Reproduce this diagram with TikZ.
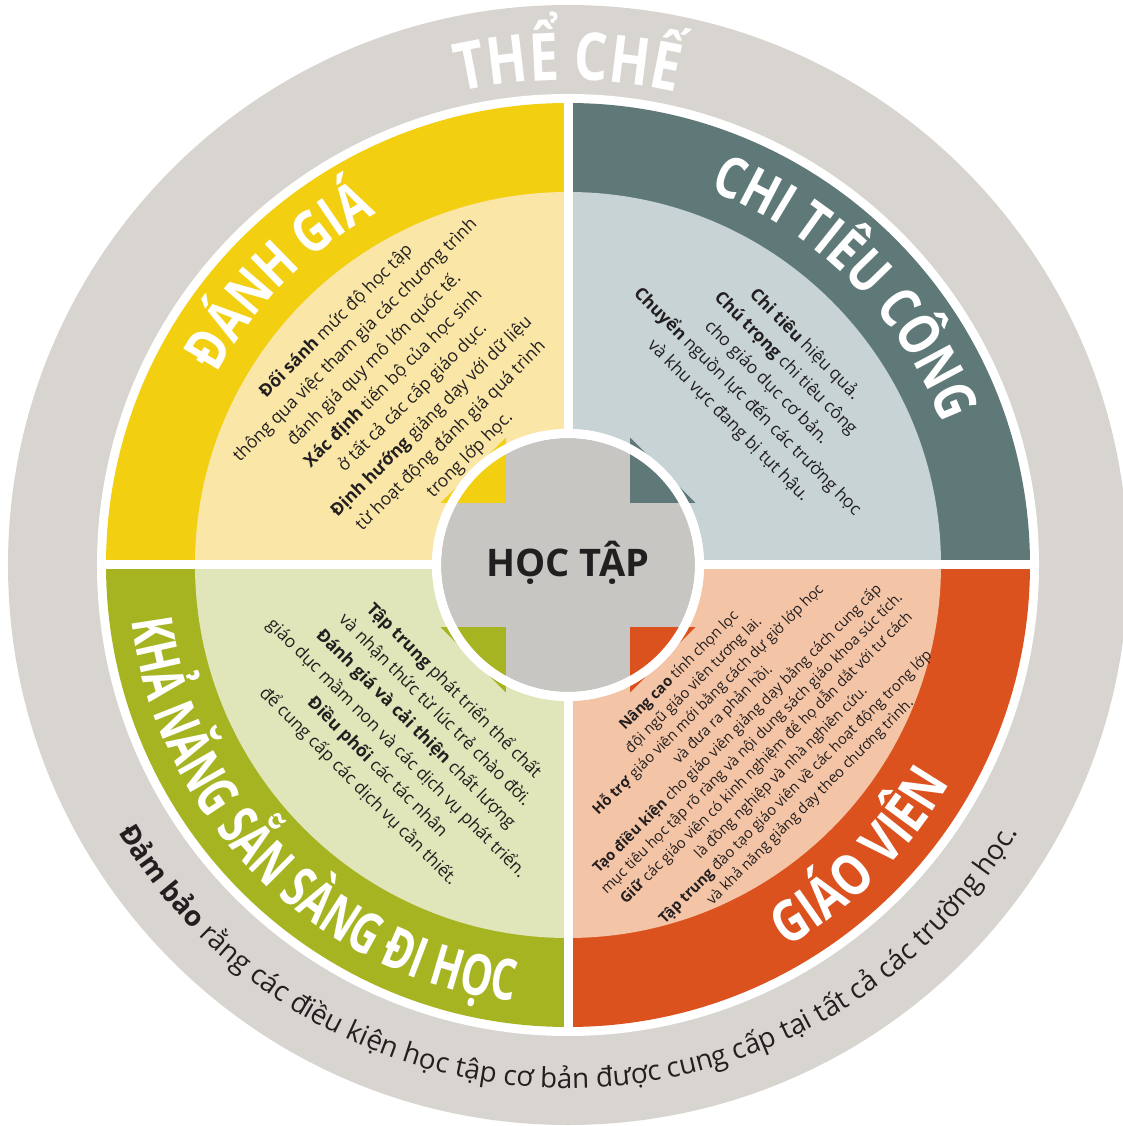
\documentclass[tikz,border=0pt]{standalone}
\usepackage{fontspec}
\setmainfont{Open Sans}
\newfontfamily\titlefont{Open Sans}[FakeStretch=0.8]
\newfontfamily\tighttitlefont{Open Sans}[FakeStretch=0.7]
\usetikzlibrary{decorations.text}
\definecolor{ringgray}{HTML}{D8D5D1}
\definecolor{hubgray}{HTML}{C8C6C2}
\definecolor{inkdark}{HTML}{231F20}
\definecolor{sunny}{HTML}{F3CF12}
\definecolor{sunnylight}{HTML}{FAE7A8}
\definecolor{slate}{HTML}{5F7979}
\definecolor{slatelight}{HTML}{C7D3D5}
\definecolor{rust}{HTML}{DB521E}
\definecolor{rustlight}{HTML}{F3C4A6}
\definecolor{leaf}{HTML}{A6B421}
\definecolor{leaflight}{HTML}{E0E5BA}

\begin{document}
\begin{tikzpicture}[
x=1pt,y=1pt,
body/.style={align=center,text=inkdark,inner sep=0pt,font=\fontsize{17.5}{27}\selectfont},
smallbody/.style={body,font=\fontsize{14.8}{20.6}\selectfont},
ringtitle/.style={decorate,decoration={text along path,text align=center,text color=white,text={#1}}}
]
\useasboundingbox (-568,-561) rectangle (554,565);
\fill[ringgray] (0,0) circle[radius=560];
\fill[white] (0,0) circle[radius=471];
\fill[sunny] (0,0) -- (180:462) arc[start angle=180,end angle=90,radius=462] -- cycle;
\fill[slate] (0,0) -- (90:462) arc[start angle=90,end angle=0,radius=462] -- cycle;
\fill[rust] (0,0) -- (0:462) arc[start angle=360,end angle=270,radius=462] -- cycle;
\fill[leaf] (0,0) -- (270:462) arc[start angle=270,end angle=180,radius=462] -- cycle;
\fill[sunnylight] (0,0) -- (180:373) arc[start angle=180,end angle=90,radius=373] -- cycle;
\fill[slatelight] (0,0) -- (90:373) arc[start angle=90,end angle=0,radius=373] -- cycle;
\fill[rustlight] (0,0) -- (0:373) arc[start angle=360,end angle=270,radius=373] -- cycle;
\fill[leaflight] (0,0) -- (270:373) arc[start angle=270,end angle=180,radius=373] -- cycle;
\draw[white,line width=9pt] (-471,0) -- (471,0) (0,-471) -- (0,471);
\fill[white] (0,0) circle[radius=136];
\fill[hubgray] (0,0) circle[radius=127];
\foreach \ang/\col in {135/sunny,45/slate,315/rust,225/leaf}
  \fill[\col,rotate=\ang] (88,0) -- (134,46) -- (134,-46) -- cycle;
\draw[white,line width=9pt] (0,0) circle[radius=131.5];

\node[font=\bfseries\fontsize{38}{40}\selectfont,text=inkdark,anchor=base] (hub) at (0,-12) {HỌC TẬP};

\path[ringtitle={|\titlefont\bfseries\fontsize{66}{70}\selectfont|THỂ CHẾ}] (135:485) arc[start angle=135,end angle=45,radius=485];
\path[ringtitle={|\titlefont\bfseries\fontsize{57}{60}\selectfont|ĐÁNH GIÁ}] (180:400) arc[start angle=180,end angle=90,radius=400];
\path[ringtitle={|\titlefont\bfseries\fontsize{57}{60}\selectfont|CHI TIÊU CÔNG}] (90:400) arc[start angle=90,end angle=0,radius=400];
\path[ringtitle={|\titlefont\bfseries\fontsize{57}{60}\selectfont|GIÁO VIÊN}] (270:440) arc[start angle=270,end angle=360,radius=440];
\path[ringtitle={|\tighttitlefont\bfseries\fontsize{57}{60}\selectfont|KHẢ NĂNG SẴN SÀNG ĐI HỌC}] (180:440) arc[start angle=180,end angle=270,radius=440];
\path[decorate,decoration={text along path,text align=center,text color=inkdark,
  text={|\fontsize{27.8}{30}\selectfont\bfseries|Đảm bảo|\fontsize{27.8}{30}\selectfont\mdseries| rằng các điều kiện học tập cơ bản được cung cấp tại tất cả các trường học.}}]
  (190:523) arc[start angle=190,end angle=350,radius=523];

\node[body,rotate=45] (evaltext) at (-165,177) {\textbf{Đối sánh} mức độ học tập\\thông qua việc tham gia các chương trình\\đánh giá quy mô lớn quốc tế.\\\textbf{Xác định} tiến bộ của học sinh\\ở tất cả các cấp giáo dục.\\\textbf{Định hướng} giảng dạy với dữ liệu\\từ hoạt động đánh giá quá trình\\trong lớp học.};
\node[body,rotate=-45] (spendtext) at (198.5,182.4) {\textbf{Chi tiêu} hiệu quả.\\\textbf{Chú trọng} chi tiêu công\\cho giáo dục cơ bản.\\\textbf{Chuyển} nguồn lực đến các trường học\\và khu vực đang bị tụt hậu.};
\node[smallbody,rotate=45] (teachtext) at (177,-171.6) {\textbf{Nâng cao} tính chọn lọc\\đội ngũ giáo viên tương lai.\\\textbf{Hỗ trợ} giáo viên mới bằng cách dự giờ lớp học\\và đưa ra phản hồi.\\\textbf{Tạo điều kiện} cho giáo viên giảng dạy bằng cách cung cấp\\mục tiêu học tập rõ ràng và nội dung sách giáo khoa súc tích.\\\textbf{Giữ} các giáo viên có kinh nghiệm để họ dẫn dắt với tư cách\\là đồng nghiệp và nhà nghiên cứu.\\\textbf{Tập trung} đào tạo giáo viên về các hoạt động trong lớp\\và khả năng giảng dạy theo chương trình.};
\node[body,rotate=-45] (readytext) at (-161.7,-173.5) {\textbf{Tập trung} phát triển thể chất\\và nhận thức từ lúc trẻ chào đời.\\\textbf{Đánh giá và cải thiện} chất lượng\\giáo dục mầm non và các dịch vụ phát triển.\\\textbf{Điều phối} các tác nhân\\để cung cấp các dịch vụ cần thiết.};
\end{tikzpicture}
\end{document}
